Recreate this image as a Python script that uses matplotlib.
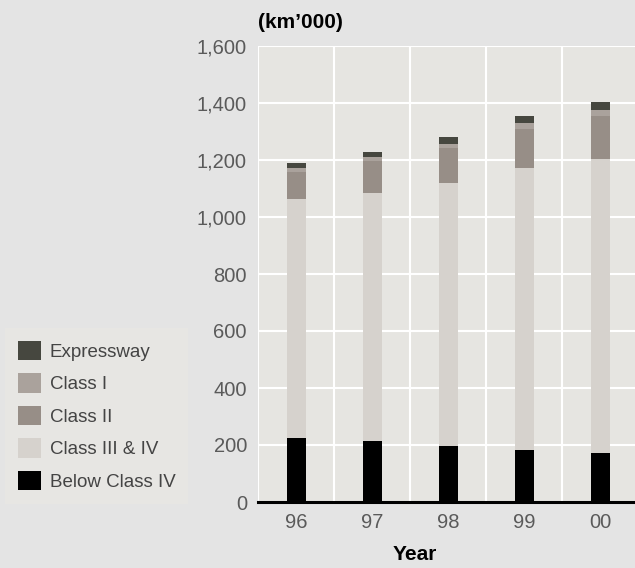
import matplotlib
matplotlib.use("Agg")
import matplotlib.pyplot as plt
from matplotlib.patches import Patch
import numpy as np

years = ["96", "97", "98", "99", "00"]
below_class_iv = [225, 214, 197, 183, 172]
class_iii_iv = [837, 869, 921, 988, 1030]
class_ii = [96, 112, 123, 137, 152]
class_i = [13, 15, 14, 21, 21]
expressway = [17, 17, 25, 25, 30]

y_ticks = [0, 200, 400, 600, 800, 1000, 1200, 1400, 1600]

series = [
    ("Below Class IV", below_class_iv, "#000000"),
    ("Class III & IV", class_iii_iv, "#d6d2cd"),
    ("Class II", class_ii, "#978e87"),
    ("Class I", class_i, "#aaa29c"),
    ("Expressway", expressway, "#46473f"),
]

plt.rcParams["font.family"] = ["Liberation Sans", "DejaVu Sans"]

fig = plt.figure(figsize=(6.35, 5.68), dpi=100, facecolor="#e4e4e4")
ax = fig.add_axes([258 / 635, 66 / 568, 380 / 635, 456 / 568])
ax.set_facecolor("#e6e5e1")

x = np.arange(len(years))
bottom = np.zeros(len(years))
for name, vals, color in series:
    ax.bar(x, vals, width=0.25, bottom=bottom, color=color, zorder=3, linewidth=0)
    bottom += np.array(vals)

ax.set_xlim(-0.5, len(years) - 0.5)
ax.set_ylim(0, 1600)
ax.set_yticks(y_ticks)
ax.set_yticklabels([f"{v:,}" for v in y_ticks])
ax.set_xticks(x)
ax.set_xticklabels(years)
ax.set_xticks(np.arange(len(years) + 1) - 0.5, minor=True)

ax.grid(True, which="major", axis="y", color="white", linewidth=1.5, zorder=1)
ax.grid(True, which="minor", axis="x", color="white", linewidth=1.5, zorder=1)
ax.grid(False, which="major", axis="x")

for side in ["left", "right", "top"]:
    ax.spines[side].set_visible(False)
ax.spines["bottom"].set_color("black")
ax.spines["bottom"].set_linewidth(2.2)
ax.spines["bottom"].set_zorder(4)

ax.tick_params(axis="both", which="both", length=0, labelsize=14.5, labelcolor="#5a5a5a")
ax.tick_params(axis="y", pad=8)
ax.tick_params(axis="x", pad=8)

fig.text(258 / 635, 1 - 22 / 568, "(km\u2019000)", fontsize=15, fontweight="bold",
         ha="left", va="center", color="black")
fig.text(415 / 635, 1 - 555 / 568, "Year", fontsize=15, fontweight="bold",
         ha="center", va="center", color="black")

handles = [Patch(facecolor=c, edgecolor="none", label=n) for n, _, c in reversed(series)]
leg = fig.legend(handles=handles, loc="upper left", bbox_to_anchor=(5 / 635, 1 - 328 / 568),
                 frameon=True, fancybox=False, fontsize=13.5, handlelength=1.23,
                 handleheight=1.23, handletextpad=0.48, labelspacing=0.66,
                 borderpad=0.68, borderaxespad=0)
leg.get_frame().set_facecolor("#e8e7e3")
leg.get_frame().set_edgecolor("none")
for t in leg.get_texts():
    t.set_color("#444444")

fig.savefig("out.png", dpi=100, facecolor=fig.get_facecolor())
